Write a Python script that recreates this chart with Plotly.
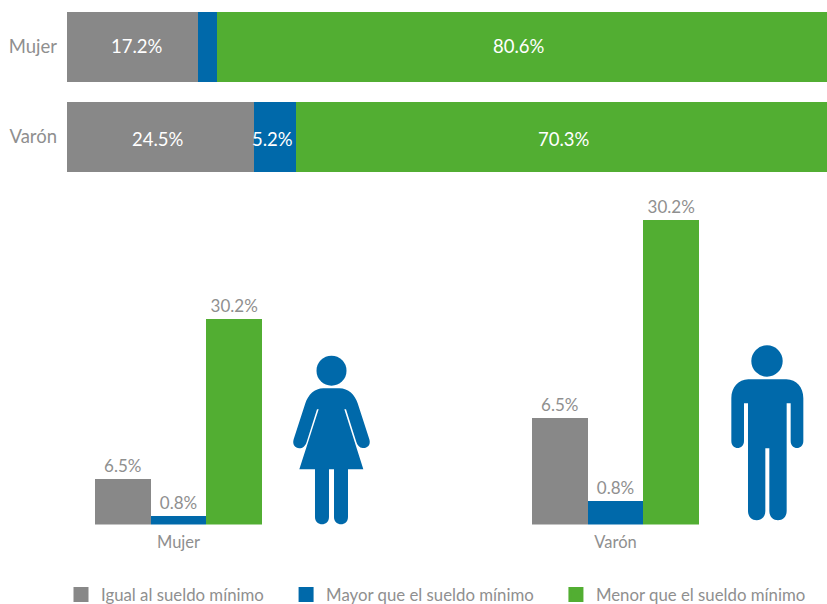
import plotly.graph_objects as go
from plotly.subplots import make_subplots

W, H = 827, 604
GRAY, BLUE, GREEN = "#888888", "#0069AA", "#52AE32"
TXT = "#8F8F8F"
FONT = "Lato"

categories = ["Mujer", "Varón"]
series = ["Igual al sueldo mínimo", "Mayor que el sueldo mínimo", "Menor que el sueldo mínimo"]
colors = [GRAY, BLUE, GREEN]

share_igual = [17.2, 24.6]
share_mayor = [2.6, 5.5]
share_menor = [80.2, 69.9]
share_igual_labels = ["17.2%", "24.5%"]
share_mayor_labels = ["", "5.2%"]
share_menor_labels = ["80.6%", "70.3%"]

level_igual = [4.5, 10.6]
level_mayor = [0.8, 2.3]
level_menor = [20.4, 30.2]
level_igual_labels = ["6.5%", "6.5%"]
level_mayor_labels = ["0.8%", "0.8%"]
level_menor_labels = ["30.2%", "30.2%"]


def px(x):
    return x / W


def py(y):
    return 1 - y / H


fig = make_subplots(rows=2, cols=1)

shares = [share_igual, share_mayor, share_menor]
share_labels = [share_igual_labels, share_mayor_labels, share_menor_labels]
levels = [level_igual, level_mayor, level_menor]
level_labels = [level_igual_labels, level_mayor_labels, level_menor_labels]

# label nudges (pixels) inside the upper bars, per series and per category
label_dx = [[5, -2], [0, -2], [-3, 3]]
label_dy = [1, -2]

for i, name in enumerate(series):
    fig.add_trace(go.Bar(
        y=categories, x=shares[i], orientation="h", name=name,
        showlegend=False, marker=dict(color=colors[i], line_width=0),
        hoverinfo="skip",
    ), row=1, col=1)

for j, cat in enumerate(categories):
    start = 0.0
    for i in range(len(series)):
        value = shares[i][j]
        if share_labels[i][j]:
            fig.add_annotation(
                x=start + value / 2, y=cat, xref="x", yref="y", text=share_labels[i][j],
                showarrow=False, xshift=label_dx[i][j], yshift=label_dy[j],
                font=dict(family=FONT, size=18.5, color="white"),
            )
        start += value

bar_width = 0.1275
for i, name in enumerate(series):
    fig.add_trace(go.Bar(
        x=categories, y=levels[i], name=name, showlegend=False,
        marker=dict(color=colors[i], line_width=0),
        width=bar_width, offset=bar_width * (i - 1.5), offsetgroup=str(i),
        text=level_labels[i], textposition="outside", cliponaxis=False,
        textangle=0, constraintext="none",
        textfont=dict(family=FONT, size=17, color=TXT), hoverinfo="skip",
    ), row=2, col=1)

# legend-only entries: a same-coloured outline gives the larger square swatch,
# trailing no-break spaces give the wider spacing between entries
legend_padding = [4, 4, 0]
for i, name in enumerate(series):
    fig.add_trace(go.Bar(
        x=[None], y=[None], name=name + "\u00a0" * legend_padding[i], showlegend=True,
        marker=dict(color=colors[i], line=dict(color=colors[i], width=3)),
        hoverinfo="skip",
    ), row=2, col=1)


def icon_path(tokens, ox, oy):
    """Icon outline given in 3x crop coordinates, turned into paper coordinates."""
    out = []
    is_x = True
    for t in tokens.split():
        if t.isalpha():
            out.append(t)
        else:
            v = float(t) / 3
            out.append(f"{px(ox + v):.5f}" if is_x else f"{py(oy + v):.5f}")
            is_x = not is_x
    return " ".join(out)


def add_path(tokens, ox, oy):
    fig.add_shape(type="path", path=icon_path(tokens, ox, oy), xref="paper", yref="paper",
                  fillcolor=BLUE, line_width=0, layer="above")


def add_head(cx, cy, r):
    fig.add_shape(type="circle", xref="paper", yref="paper",
                  x0=px(cx - r), x1=px(cx + r), y0=py(cy + r), y1=py(cy - r),
                  fillcolor=BLUE, line_width=0)


# woman
add_head(331.5, 370.7, 15)
add_path("M 130 145 L 178 145 C 205 145 225 165 233 190 L 268 298 C 274 318 258 326 248 324 "
         "C 238 323 232 316 229 306 L 198 208 L 193 208 L 250 388 L 58 388 L 116 208 L 111 208 "
         "L 80 306 C 76 318 68 325 58 325 C 46 325 36 314 41 298 L 76 190 C 84 165 104 145 130 145 Z",
         280, 340)
add_path("M 105 385 L 147 385 L 147 531 C 147 560 105 560 105 531 Z", 280, 340)
add_path("M 162 385 L 204 385 L 204 531 C 204 560 162 560 162 531 Z", 280, 340)

# man
add_head(767, 361, 15.7)
add_path("M 85 133 L 199 133 C 230 133 250 158 250 190 L 250 318 C 250 346 212 346 212 318 "
         "L 212 205 L 200 205 L 200 528 C 200 565 148 565 148 528 L 148 340 L 136 340 L 136 528 "
         "C 136 565 84 565 84 528 L 84 205 L 72 205 L 72 318 C 72 346 34 346 34 318 L 34 190 "
         "C 34 158 55 133 85 133 Z", 720, 335)

# category positions: 178.5 px and 615.5 px centres across a 67–827 px plot area
band = 437.0
x_lo = -(178.5 - 67) / band
x_hi = 1 + (827 - 615.5) / band

fig.update_xaxes(row=1, col=1, domain=[px(67), 1], range=[0, 100], visible=False, fixedrange=True)
fig.update_yaxes(row=1, col=1, domain=[py(182), py(2)], autorange=False, range=[1.5, -0.5],
                 type="category", categoryorder="array", categoryarray=categories,
                 showline=False, showgrid=False, ticks="", ticklen=0, fixedrange=True,
                 ticklabelstandoff=9,
                 tickfont=dict(family=FONT, size=18.5, color=TXT))
fig.update_xaxes(row=2, col=1, domain=[px(67), 1], range=[x_lo, x_hi], type="category",
                 categoryorder="array", categoryarray=categories,
                 showline=False, showgrid=False, ticks="", fixedrange=True,
                 ticklabelstandoff=6,
                 tickfont=dict(family=FONT, size=16.5, color=TXT))
fig.update_yaxes(row=2, col=1, domain=[py(524.5), py(190)], range=[0, 33.2], visible=False,
                 fixedrange=True)

fig.update_layout(
    width=W, height=H, autosize=False,
    margin=dict(l=0, r=0, t=0, b=0, autoexpand=False),
    paper_bgcolor="white", plot_bgcolor="white",
    barmode="stack", bargap=20 / 90,
    font=dict(family=FONT, color=TXT),
    legend=dict(orientation="h", x=px(61), xanchor="left", y=py(577), yanchor="top",
                font=dict(family=FONT, size=16.8, color=TXT), bgcolor="rgba(0,0,0,0)",
                traceorder="normal", itemclick=False, itemdoubleclick=False),
)

fig.write_html("out.html", config={"displayModeBar": False},
               post_script="document.body.style.margin='0';document.body.style.overflow='hidden';")
